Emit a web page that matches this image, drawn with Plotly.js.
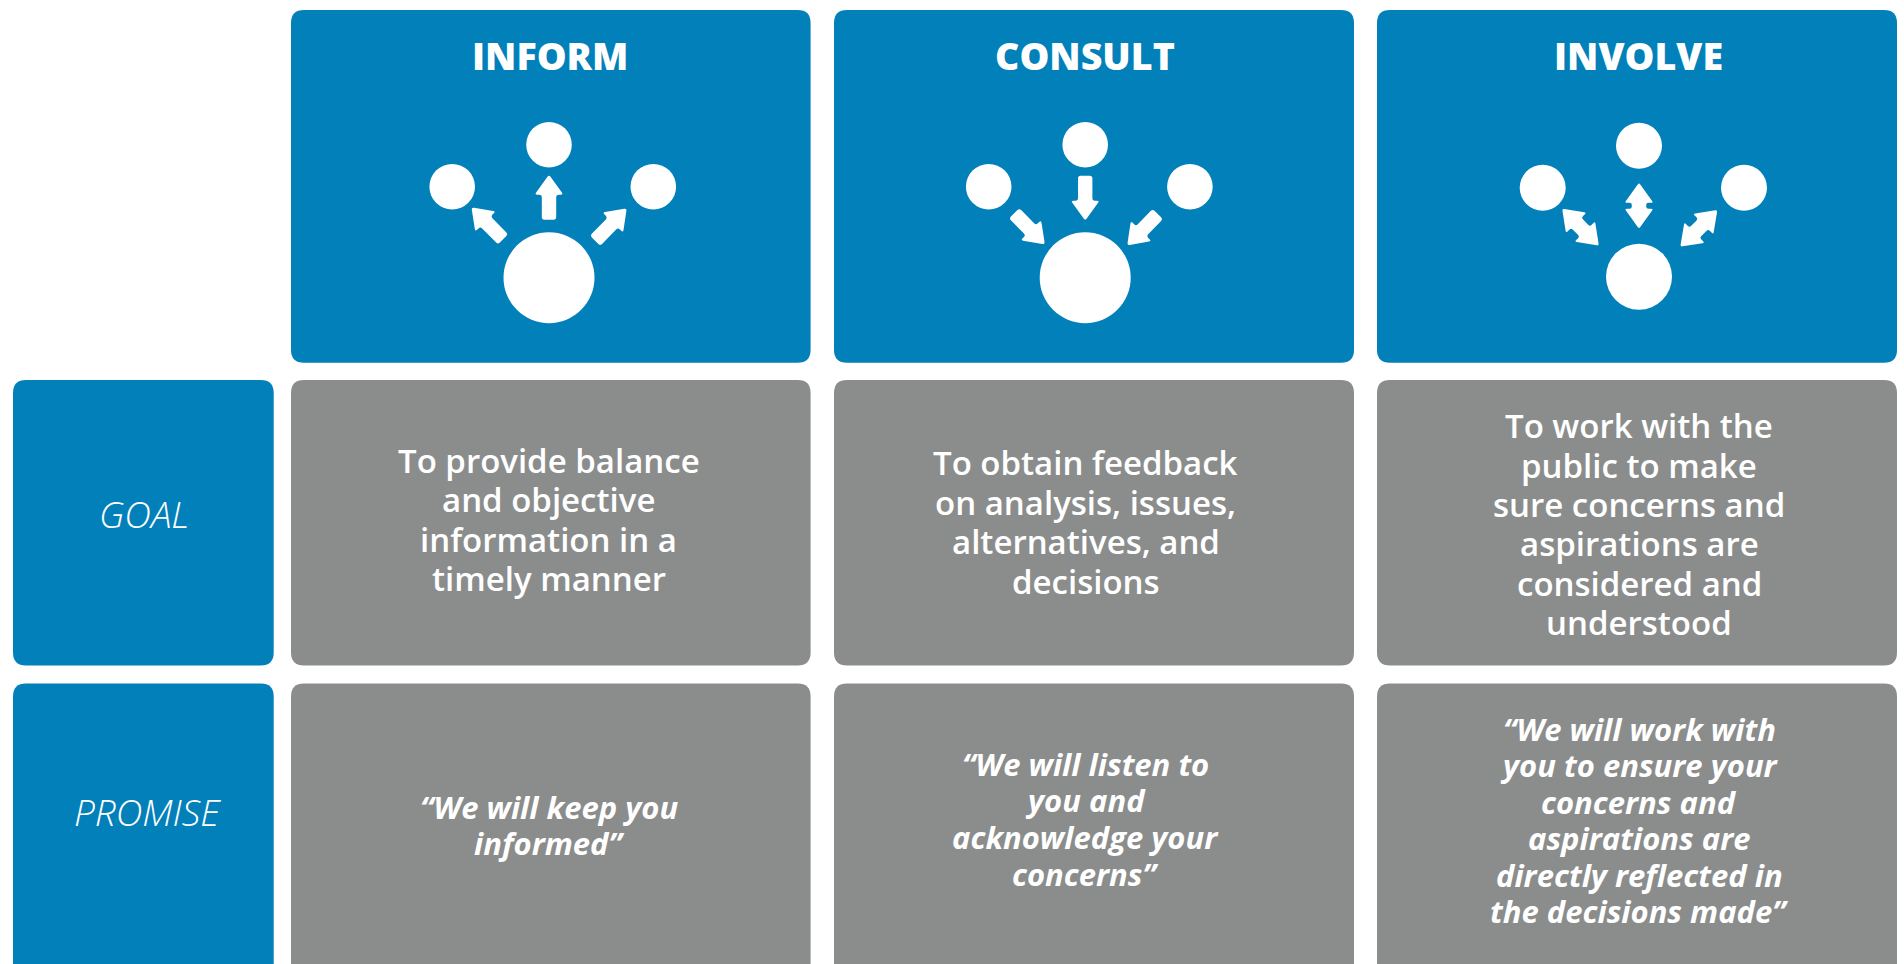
<!DOCTYPE html>
<html><head><meta charset="utf-8">
<script src="https://cdn.plot.ly/plotly-3.0.1.min.js"></script>
<style>html,body{margin:0;padding:0;background:#fff;overflow:hidden}#c{width:1904px;height:964px}</style>
</head><body><div id="c"></div>
<script>
const BLUE='#0280ba', GREY='#8b8d8c', WHITE='#ffffff', FONT='"Open Sans", sans-serif';
const titles=['INFORM','CONSULT','INVOLVE'];
const titleX=[550,1084.5,1638.5];
const rowLabels=['GOAL','PROMISE'];
const rowLabelX=[143.5,147];
const rowLabelY=[513,811];
const goalLines=[
 ['To provide balance','and objective','information in a','timely manner'],
 ['To obtain feedback','on analysis, issues,','alternatives, and','decisions'],
 ['To work with the','public to make','sure concerns and','aspirations are','considered and','understood']];
const goalLineY=[[460,499,539,578],[462,502,541,581],[425,465,504,543,583,622]];
const promiseLines=[
 ['“We will keep you','informed”'],
 ['“We will listen to','you and','acknowledge your','concerns”'],
 ['“We will work with','you to ensure your','concerns and','aspirations are','directly reflected in','the decisions made”']];
const promiseLineY=[[807,843],[764,800,837,874],[729,765,802,838,875,911]];
const promiseX=[549,1085,1639];
const colLeft=[291,834,1377], colRight=[810.6,1354,1897];
const labelLeft=13, labelRight=273.7;
const headTop=10, headBottom=362.7;
const goalTop=380, goalBottom=665.5;
const promiseTop=683.5, promiseBottom=1010;
const goalX=[548.5,1085.5,1639];
const bigX=[549,1085.2,1639], bigY=[277.7,277.7,276.7], bigD=[91,91,66];
const nearX=[[452.2,549,653.3],[988.7,1085.2,1189.9],[1542.7,1639,1744]];
const nearY=[[186.7,144.7,186.7],[186.7,144.7,186.7],[187.7,145.7,187.7]];
const nearD=[45.6,45.6,46];
// arrows: [tailX, tailY, tipX, tipY]
const singleArrows=[
 [503.1,239.3,472.1,208],[549,219.7,549,175.7],[595.1,240.7,626.1,209],
 [1014.2,213.3,1044.2,243.7],[1085.2,175.7,1085.2,219.7],[1157.8,214,1127.9,244.7]];
// double arrows: [tipAX, tipAY, tipBX, tipBY]
const doubleArrows=[
 [1562.8,209.3,1598.2,245],[1639,183.7,1639,227.7],[1716.7,210.7,1681,246]];

function roundPoly(pts,r){
  let d='';const n=pts.length;
  for(let i=0;i<n;i++){
    const p=pts[i],a=pts[(i+n-1)%n],b=pts[(i+1)%n];
    const la=Math.hypot(a[0]-p[0],a[1]-p[1]),lb=Math.hypot(b[0]-p[0],b[1]-p[1]);
    const ra=Math.min(r,la/2.2),rb=Math.min(r,lb/2.2);
    const s=[p[0]+(a[0]-p[0])*ra/la,p[1]+(a[1]-p[1])*ra/la];
    const e=[p[0]+(b[0]-p[0])*rb/lb,p[1]+(b[1]-p[1])*rb/lb];
    d+=(i?'L':'M')+s[0].toFixed(2)+','+s[1].toFixed(2)+'Q'+p[0].toFixed(2)+','+p[1].toFixed(2)+' '+e[0].toFixed(2)+','+e[1].toFixed(2);
  }
  return d+'Z';
}
function box(x0,y0,x1,y1,color){
  return {type:'path',layer:'below',xref:'x',yref:'y',fillcolor:color,line:{width:0},
    path:roundPoly([[x0,y0],[x1,y0],[x1,y1],[x0,y1]],13)};
}
const HL=19,HH=14.4,SH=7.2,TIP=1;
function frame(ax,ay,bx,by){
  const L=Math.hypot(bx-ax,by-ay),ux=(bx-ax)/L,uy=(by-ay)/L,nx=-uy,ny=ux;
  return {L,pt:(s,t)=>[ax+ux*s+nx*t,ay+uy*s+ny*t]};
}
function single(a){
  const f=frame(a[0],a[1],a[2],a[3]),p=f.pt,L=f.L;
  return {type:'path',layer:'above',fillcolor:WHITE,line:{width:0},path:roundPoly([
    p(0,-SH),p(L-HL,-SH),p(L-HL,-HH),p(L+TIP,0),p(L-HL,HH),p(L-HL,SH),p(0,SH)],2.6)};
}
function dbl(a){
  const f=frame(a[0],a[1],a[2],a[3]),p=f.pt,L=f.L;
  return {type:'path',layer:'above',fillcolor:WHITE,line:{width:0},path:roundPoly([
    p(-TIP,0),p(HL,-HH),p(HL,-SH),p(L-HL,-SH),p(L-HL,-HH),p(L+TIP,0),p(L-HL,HH),p(L-HL,SH),p(HL,SH),p(HL,HH)],2.2)};
}
const shapes=[];
colLeft.forEach((x,i)=>{
  shapes.push(box(x,headTop,colRight[i],headBottom,BLUE));
  shapes.push(box(x,goalTop,colRight[i],goalBottom,GREY));
  shapes.push(box(x,promiseTop,colRight[i],promiseBottom,GREY));
});
shapes.push(box(labelLeft,goalTop,labelRight,goalBottom,BLUE));
shapes.push(box(labelLeft,promiseTop,labelRight,promiseBottom,BLUE));
singleArrows.forEach(a=>shapes.push(single(a)));
doubleArrows.forEach(a=>shapes.push(dbl(a)));

function note(text,x,y,font){
  return {text,x,y,xref:'x',yref:'y',showarrow:false,xanchor:'center',yanchor:'middle',font};
}
const ann=[];
titles.forEach((t,i)=>ann.push(note(t,titleX[i],55,{family:FONT,size:37.6,color:WHITE,weight:800})));
rowLabels.forEach((t,i)=>ann.push(note(t,rowLabelX[i],rowLabelY[i],{family:FONT,size:37,color:WHITE,weight:300,style:'italic'})));
goalLines.forEach((ls,i)=>ls.forEach((t,j)=>ann.push(note(t,goalX[i],goalLineY[i][j],{family:FONT,size:33,color:WHITE,weight:600}))));
promiseLines.forEach((ls,i)=>ls.forEach((t,j)=>ann.push(note(t,promiseX[i],promiseLineY[i][j],{family:FONT,size:31,color:WHITE,weight:700,style:'italic'}))));

const circles={type:'scatter',mode:'markers',hoverinfo:'skip',showlegend:false,
  x:bigX.concat(nearX.flat()),y:bigY.concat(nearY.flat()),
  marker:{color:WHITE,opacity:1,line:{width:0},size:bigD.concat(nearD.flatMap(d=>[d,d,d]))}};
Plotly.newPlot('c',[circles],{
  width:1904,height:964,margin:{l:0,r:0,t:0,b:0},paper_bgcolor:WHITE,plot_bgcolor:WHITE,showlegend:false,
  xaxis:{range:[0,1904],visible:false,fixedrange:true},
  yaxis:{range:[964,0],visible:false,fixedrange:true},
  shapes,annotations:ann
},{displayModeBar:false,staticPlot:true});
</script></body></html>
